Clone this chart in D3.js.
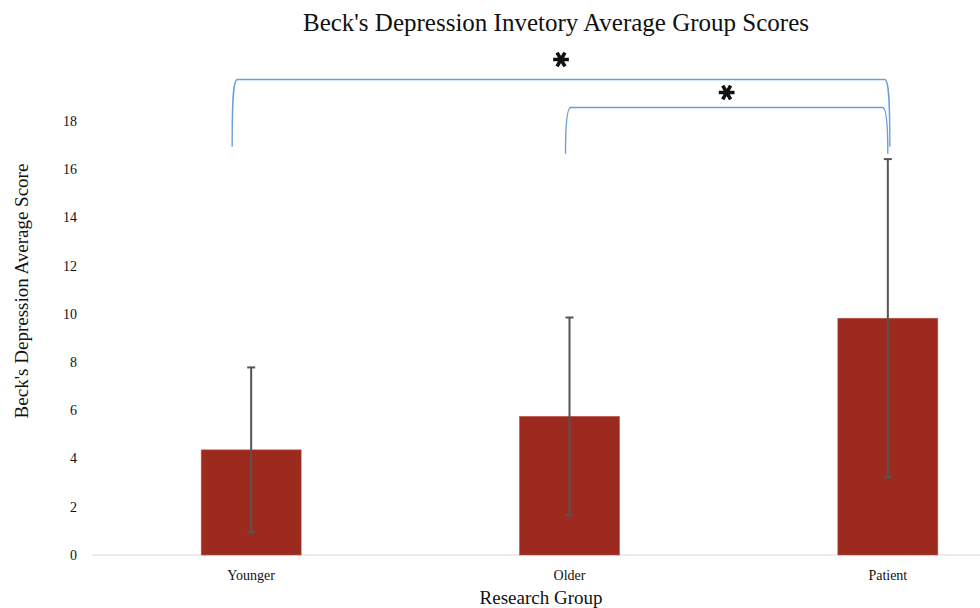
<!DOCTYPE html>
<html>
<head>
<meta charset="utf-8">
<script src="https://cdn.jsdelivr.net/npm/d3@7"></script>
<style>
  html, body { margin: 0; padding: 0; background: #fff; }
  svg { display: block; }
  text { font-family: "Liberation Serif", "DejaVu Serif", serif; fill: #111; }
</style>
</head>
<body>
<svg id="chart" width="980" height="608"></svg>
<script>
// Group means and standard deviations of the BDI scores
const groups = ["Younger", "Older", "Patient"];
const means = [4.36, 5.75, 9.82];
const sds = [3.42, 4.1, 6.6];
const yTicks = [0, 2, 4, 6, 8, 10, 12, 14, 16, 18];

// Significance brackets: from group, to group, bottom and top in score units
const sigFrom = ["Younger", "Older"];
const sigTo = ["Patient", "Patient"];
const sigLow = [16.93, 16.64];
const sigHigh = [19.72, 18.56];

const svg = d3.select("#chart");
const W = 980, H = 608;

const x = d3.scaleBand().domain(groups).range([92, 1047]).paddingInner(0.686).paddingOuter(0.343);
const y = d3.scaleLinear().domain([0, 18]).range([555, 121]);

// baseline
svg.append("line")
  .attr("x1", 92).attr("x2", W)
  .attr("y1", y(0)).attr("y2", y(0))
  .attr("stroke", "#d9d9d9").attr("stroke-width", 1);

// y tick labels
svg.append("g").selectAll("text").data(yTicks).join("text")
  .attr("x", 77).attr("y", d => y(d)).attr("dy", "0.35em")
  .attr("text-anchor", "end").attr("font-size", 14)
  .text(d => d);

// bars
svg.append("g").selectAll("rect").data(groups).join("rect")
  .attr("x", d => x(d)).attr("width", x.bandwidth())
  .attr("y", (d, i) => y(means[i])).attr("height", (d, i) => y(0) - y(means[i]))
  .attr("fill", "#9c2a1e").attr("stroke", "#b8574c").attr("stroke-width", 0.6);

// error bars
const eg = svg.append("g").attr("stroke", "#555").attr("stroke-width", 2);
groups.forEach((g, i) => {
  const cx = x(g) + x.bandwidth() / 2;
  const hi = y(means[i] + sds[i]), lo = y(means[i] - sds[i]);
  eg.append("line").attr("x1", cx).attr("x2", cx).attr("y1", hi).attr("y2", lo);
  eg.append("line").attr("x1", cx - 4).attr("x2", cx + 4).attr("y1", hi).attr("y2", hi);
  eg.append("line").attr("x1", cx - 4).attr("x2", cx + 4).attr("y1", lo).attr("y2", lo);
});

// x labels
svg.append("g").selectAll("text").data(groups).join("text")
  .attr("x", d => x(d) + x.bandwidth() / 2).attr("y", 580)
  .attr("text-anchor", "middle").attr("font-size", 14)
  .text(d => d);

// significance brackets with asterisks
const cxOf = g => x(g) + x.bandwidth() / 2;
const bracketOffsets = [[-19, 2], [-4, 0]];
const starLift = [20, 15];
const star = d3.symbol().type(d3.symbolAsterisk).size(175);
sigFrom.forEach((g, i) => {
  const x0 = cxOf(g) + bracketOffsets[i][0];
  const x1 = cxOf(sigTo[i]) + bracketOffsets[i][1];
  const yb = y(sigLow[i]), yt = y(sigHigh[i]);
  const p = d3.path();
  p.moveTo(x0, yb);
  p.bezierCurveTo(x0, yt + 20, x0 + 1, yt + 1, x0 + 5, yt);
  p.lineTo(x1 - 5, yt);
  p.bezierCurveTo(x1 - 1, yt + 1, x1, yt + 20, x1, yb);
  svg.append("path").attr("d", p.toString())
    .attr("fill", "none").attr("stroke", "#6a9fd8").attr("stroke-width", 1.4);
  svg.append("path")
    .attr("d", star())
    .attr("transform", `translate(${(x0 + x1) / 2},${yt - starLift[i]}) rotate(90)`)
    .attr("fill", "none").attr("stroke", "#111").attr("stroke-width", 3.6);
});

// title
svg.append("text")
  .attr("x", 556).attr("y", 31).attr("text-anchor", "middle")
  .attr("font-size", 25)
  .text("Beck's Depression Invetory Average Group Scores");

// axis titles
svg.append("text")
  .attr("x", 541).attr("y", 604).attr("text-anchor", "middle")
  .attr("font-size", 19)
  .text("Research Group");

svg.append("text")
  .attr("transform", "translate(28,291) rotate(-90)")
  .attr("text-anchor", "middle").attr("font-size", 19)
  .text("Beck's Depression Average Score");
</script>
</body>
</html>
